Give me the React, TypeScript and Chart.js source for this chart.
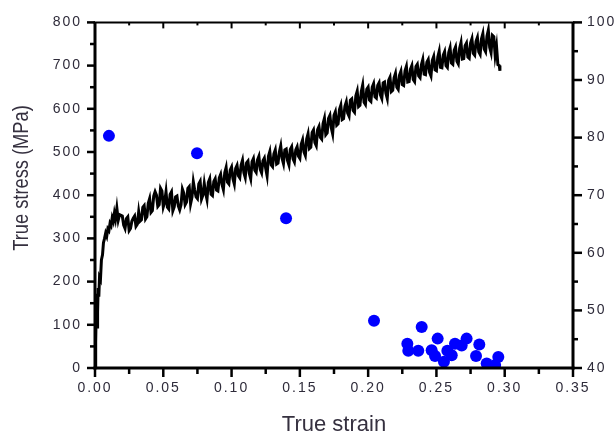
import React, { useEffect, useRef } from 'react';
import { Chart, registerables } from 'chart.js';

Chart.register(...registerables);

// ---- data ----
const strain = [
  0, 0.0005, 0.001, 0.0013, 0.0016, 0.0019, 0.0023, 0.0028, 0.0033, 0.004,
  0.0047, 0.0055, 0.0062, 0.007, 0.0078, 0.0086, 0.0094, 0.0102, 0.011, 0.0118,
  0.0126, 0.0134, 0.0142, 0.015, 0.016, 0.017, 0.018,
  0.020, 0.021, 0.022, 0.023, 0.024, 0.025, 0.026, 0.027, 0.028, 0.029,
  0.030, 0.031, 0.032, 0.033, 0.034, 0.035, 0.036, 0.037, 0.038, 0.039,
  0.040, 0.041, 0.042, 0.043, 0.044, 0.045, 0.046, 0.047, 0.048, 0.049,
  0.050, 0.051, 0.052, 0.053, 0.054, 0.055, 0.056, 0.057, 0.058, 0.059,
  0.060, 0.061, 0.062, 0.063, 0.064, 0.065, 0.066, 0.067, 0.068, 0.069,
  0.070, 0.071, 0.072, 0.073, 0.074, 0.075, 0.076, 0.077, 0.078, 0.079,
  0.080, 0.081, 0.082, 0.083, 0.084, 0.085, 0.086, 0.087, 0.088, 0.089,
  0.090, 0.091, 0.092, 0.093, 0.094, 0.095, 0.096, 0.097, 0.098, 0.099,
  0.100, 0.101, 0.102, 0.103, 0.104, 0.105, 0.106, 0.107, 0.108, 0.109,
  0.110, 0.111, 0.112, 0.113, 0.114, 0.115, 0.116, 0.117, 0.118, 0.119,
  0.120, 0.121, 0.122, 0.123, 0.124, 0.125, 0.126, 0.127, 0.128, 0.129,
  0.130, 0.131, 0.132, 0.133, 0.134, 0.135, 0.136, 0.137, 0.138, 0.139,
  0.140, 0.141, 0.142, 0.143, 0.144, 0.145, 0.146, 0.147, 0.148, 0.149,
  0.150, 0.151, 0.152, 0.153, 0.154, 0.155, 0.156, 0.157, 0.158, 0.159,
  0.160, 0.161, 0.162, 0.163, 0.164, 0.165, 0.166, 0.167, 0.168, 0.169,
  0.170, 0.171, 0.172, 0.173, 0.174, 0.175, 0.176, 0.177, 0.178, 0.179,
  0.180, 0.181, 0.182, 0.183, 0.184, 0.185, 0.186, 0.187, 0.188, 0.189,
  0.190, 0.191, 0.192, 0.193, 0.194, 0.195, 0.196, 0.197, 0.198, 0.199,
  0.200, 0.201, 0.202, 0.203, 0.204, 0.205, 0.206, 0.207, 0.208, 0.209,
  0.210, 0.211, 0.212, 0.213, 0.214, 0.215, 0.216, 0.217, 0.218, 0.219,
  0.220, 0.221, 0.222, 0.223, 0.224, 0.225, 0.226, 0.227, 0.228, 0.229,
  0.230, 0.231, 0.232, 0.233, 0.234, 0.235, 0.236, 0.237, 0.238, 0.239,
  0.240, 0.241, 0.242, 0.243, 0.244, 0.245, 0.246, 0.247, 0.248, 0.249,
  0.250, 0.251, 0.252, 0.253, 0.254, 0.255, 0.256, 0.257, 0.258, 0.259,
  0.260, 0.261, 0.262, 0.263, 0.264, 0.265, 0.266, 0.267, 0.268, 0.269,
  0.270, 0.271, 0.272, 0.273, 0.274, 0.275, 0.276, 0.277, 0.278, 0.279,
  0.280, 0.281, 0.282, 0.283, 0.284, 0.285, 0.286, 0.287, 0.288, 0.289,
  0.290, 0.291, 0.292, 0.293, 0.294, 0.295, 0.296, 0.2965,
];

const stress = [
  5, 60, 150, 172, 95, 130, 185, 165, 210, 205,
  250, 262, 290, 300, 312, 305, 322, 318, 335, 330,
  348, 340, 358, 345, 370, 342, 355,
  352, 331, 323, 346, 350, 318, 323, 340, 347, 352,
  328, 333, 362, 340, 343, 372, 376, 345, 350, 381,
  392, 360, 364, 398, 408, 400, 374, 378, 416, 410,
  373, 384, 408, 372, 368, 402, 408, 364, 373, 396,
  398, 375, 366, 378, 414, 405, 378, 384, 416, 420,
  380, 395, 431, 412, 396, 392, 426, 432, 391, 400,
  427, 405, 390, 430, 438, 402, 399, 432, 438, 412,
  410, 440, 448, 425, 413, 452, 464, 430, 426, 458,
  465, 438, 426, 462, 469, 445, 440, 470, 481, 452,
  441, 475, 479, 450, 438, 478, 485, 458, 453, 482,
  490, 460, 452, 480, 486, 462, 445, 490, 501, 470,
  466, 496, 505, 472, 474, 500, 514, 485, 473, 505,
  507, 480, 470, 506, 512, 484, 477, 505, 512, 490,
  485, 518, 528, 500, 492, 530, 542, 508, 511, 545,
  551, 522, 515, 552, 559, 534, 530, 566, 578, 540,
  544, 578, 585, 556, 542, 585, 593, 562, 565, 598,
  608, 575, 577, 606, 616, 590, 583, 620, 623, 596,
  592, 630, 641, 605, 608, 640, 655, 615, 610, 645,
  650, 620, 617, 650, 658, 628, 625, 654, 660, 632,
  624, 660, 662, 636, 624, 666, 673, 640, 643, 672,
  682, 650, 645, 678, 687, 656, 654, 688, 698, 662,
  663, 692, 700, 668, 663, 698, 703, 676, 672, 702,
  714, 680, 679, 708, 714, 684, 676, 712, 721, 690,
  688, 720, 733, 696, 695, 724, 732, 700, 696, 730,
  741, 706, 703, 735, 743, 710, 704, 740, 753, 715,
  716, 746, 752, 720, 717, 752, 762, 728, 724, 756,
  765, 732, 726, 762, 774, 738, 732, 768, 782, 742,
  730, 770, 767, 724, 745, 702, 700, 688,
];

// blue markers on the right-hand axis
const pointStrain = [
  0.0102, 0.0747, 0.1399, 0.2043, 0.2287, 0.2294, 0.2367, 0.2392, 0.2465, 0.249,
  0.2509, 0.2555, 0.258, 0.2612, 0.2636, 0.2685, 0.2721, 0.279, 0.2814, 0.2868,
  0.293, 0.2953,
];
const pointValue = [
  80.3, 77.3, 66.0, 48.2, 44.2, 43.0, 43.0, 47.1, 43.1, 42.1,
  45.1, 41.1, 43.0, 42.2, 44.2, 43.9, 45.1, 42.1, 44.1, 40.8,
  40.5, 41.9,
];

const xTickValues = [0, 0.05, 0.1, 0.15, 0.2, 0.25, 0.3, 0.35];
const xTickLabels = ['0.00', '0.05', '0.10', '0.15', '0.20', '0.25', '0.30', '0.35'];
const yTickValues = [0, 100, 200, 300, 400, 500, 600, 700, 800];
const yTickLabels = ['0', '100', '200', '300', '400', '500', '600', '700', '800'];
const y2TickValues = [40, 50, 60, 70, 80, 90, 100];
const y2TickLabels = ['40', '50', '60', '70', '80', '90', '100'];

const xTitle = 'True strain';
const yTitle = 'True stress (MPa)';

const FONT = "'Liberation Sans', Arial, sans-serif";
const LABEL_COLOR = '#2e2b3a';

const framePlugin = {
  id: 'frame',
  beforeDraw(chart: any) {
    (chart.ctx as any).letterSpacing = '2px';
  },
  afterDraw(chart: any) {
    const { ctx, chartArea: a, scales } = chart;
    ctx.save();
    (ctx as any).letterSpacing = '0px';
    ctx.strokeStyle = '#000';
    ctx.lineCap = 'butt';

    const line = (x1: number, y1: number, x2: number, y2: number, w: number) => {
      ctx.lineWidth = w;
      ctx.beginPath();
      ctx.moveTo(x1, y1);
      ctx.lineTo(x2, y2);
      ctx.stroke();
    };

    const withMinors = (vals: number[]) => {
      const out: { v: number; major: boolean }[] = [];
      vals.forEach((v, i) => {
        out.push({ v, major: true });
        if (i < vals.length - 1) out.push({ v: (v + vals[i + 1]) / 2, major: false });
      });
      return out;
    };

    // x ticks: outward at bottom, inward at top
    withMinors(xTickValues).forEach(({ v, major }) => {
      const px = scales.x.getPixelForValue(v);
      line(px, a.bottom, px, a.bottom + (major ? 9 : 6), 2.5);
      line(px, a.top, px, a.top + (major ? 6 : 3), 2);
    });
    // left ticks outward
    withMinors(yTickValues).forEach(({ v, major }) => {
      const py = scales.y.getPixelForValue(v);
      line(a.left, py, a.left - (major ? 8 : 5), py, 2.5);
    });
    // right ticks outward
    withMinors(y2TickValues).forEach(({ v, major }) => {
      const py = scales.y2.getPixelForValue(v);
      line(a.right, py, a.right + (major ? 9 : 5), py, 2.5);
    });

    // frame
    line(a.left - 1.5, a.top, a.right + 1.5, a.top, 2);
    line(a.left, a.top, a.left, a.bottom + 1.5, 3);
    line(a.right, a.top, a.right, a.bottom + 1.5, 3);
    line(a.left - 1.5, a.bottom, a.right + 1.5, a.bottom, 3);

    // axis titles
    ctx.fillStyle = '#35303f';
    ctx.font = `22px ${FONT}`;
    ctx.textAlign = 'center';
    ctx.textBaseline = 'alphabetic';
    ctx.fillText(xTitle, (a.left + a.right) / 2, 431);

    ctx.save();
    ctx.translate(27.5, 178);
    ctx.rotate(-Math.PI / 2);
    ctx.scale(0.83, 1);
    ctx.fillText(yTitle, 0, 0);
    ctx.restore();

    ctx.restore();
  },
};

export default function App() {
  const ref = useRef<HTMLCanvasElement>(null);

  useEffect(() => {
    document.body.style.margin = '0';
    const canvas = ref.current;
    if (!canvas) return;

    const chart = new Chart(canvas, {
      type: 'scatter',
      data: {
        datasets: [
          {
            type: 'line',
            label: 'True stress',
            data: strain.map((x, i) => ({ x, y: stress[i] })),
            borderColor: '#000000',
            borderWidth: 3,
            pointRadius: 0,
            tension: 0,
            xAxisID: 'x',
            yAxisID: 'y',
            order: 2,
          } as any,
          {
            type: 'scatter',
            label: 'Right axis values',
            data: pointStrain.map((x, i) => ({ x, y: pointValue[i] })),
            backgroundColor: '#0000ff',
            borderColor: '#0000ff',
            borderWidth: 0,
            pointRadius: 6,
            xAxisID: 'x',
            yAxisID: 'y2',
            clip: 0,
            order: 1,
          } as any,
        ],
      },
      options: {
        responsive: false,
        animation: false,
        layout: { padding: { top: 17, left: 0, right: 0, bottom: 0 } },
        plugins: {
          legend: { display: false },
          tooltip: { enabled: false },
        },
        scales: {
          x: {
            type: 'linear',
            position: 'bottom',
            min: 0,
            max: 0.35,
            grid: { display: false, drawTicks: false },
            border: { display: false },
            afterBuildTicks: (s: any) => {
              s.ticks = xTickValues.map((value) => ({ value }));
            },
            ticks: {
              autoSkip: false,
              maxRotation: 0,
              padding: 12,
              color: LABEL_COLOR,
              font: { family: FONT, size: 14 },
              callback: (_v: any, i: number) => xTickLabels[i],
            },
            afterFit: (s: any) => {
              s.height = 71;
            },
          },
          y: {
            type: 'linear',
            position: 'left',
            min: 0,
            max: 800,
            grid: { display: false, drawTicks: false },
            border: { display: false },
            afterBuildTicks: (s: any) => {
              s.ticks = yTickValues.map((value) => ({ value }));
            },
            ticks: {
              autoSkip: false,
              padding: 13,
              color: LABEL_COLOR,
              font: { family: FONT, size: 14 },
              callback: (_v: any, i: number) => yTickLabels[i],
            },
            afterFit: (s: any) => {
              s.width = 95;
            },
          },
          y2: {
            type: 'linear',
            position: 'right',
            min: 40,
            max: 100,
            grid: { display: false, drawTicks: false },
            border: { display: false },
            afterBuildTicks: (s: any) => {
              s.ticks = y2TickValues.map((value) => ({ value }));
            },
            ticks: {
              autoSkip: false,
              padding: 14,
              color: LABEL_COLOR,
              font: { family: FONT, size: 14 },
              callback: (_v: any, i: number) => y2TickLabels[i],
            },
            afterFit: (s: any) => {
              s.width = 43;
            },
          },
        },
      } as any,
      plugins: [framePlugin],
    });

    return () => {
      chart.destroy();
    };
  }, []);

  return (
    <div style={{ width: 616, height: 439 }}>
      <canvas ref={ref} width={616} height={439} style={{ display: 'block' }} />
    </div>
  );
}
